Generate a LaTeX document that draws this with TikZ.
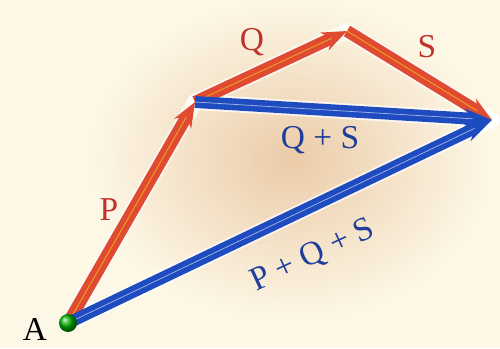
\documentclass[tikz,border=0pt]{standalone}
\usepackage{xcolor}
\usepackage{fontspec}
\setmainfont{Liberation Serif}
\usepackage{tikz}
\usetikzlibrary{positioning,arrows.meta}
\definecolor{vecRed}{HTML}{E04A32}
\definecolor{vecBlue}{HTML}{1E4CC0}
\definecolor{lblRed}{HTML}{C0332B}
\definecolor{lblBlue}{HTML}{1F3D9A}
\definecolor{bgCream}{HTML}{FDF7E6}
\definecolor{bgTan}{HTML}{EBCBA8}
\newcommand{\vlabel}{\fontsize{19}{21}\selectfont}

\begin{document}
\begin{tikzpicture}[x=0.02cm,y=-0.02cm,
    redvec/.style={draw=vecRed,line width=3.2pt,double=vecRed!50!yellow,double distance=0.5pt,
      -{Stealth[length=14pt,width=11pt]}},
    bluevec/.style={draw=vecBlue,line width=3.2pt,double=vecBlue!40!white,double distance=0.4pt,
      -{Stealth[length=16pt,width=11pt]}},
    halo/.style={draw=white,line width=9pt,opacity=0.7,line cap=round},
    redlbl/.style={text=lblRed,font=\vlabel},
    bluelbl/.style={text=lblBlue,font=\vlabel}]
      % background
      \fill[bgCream] (0,0) rectangle (500,348);
      \shade[inner color=bgTan,outer color=bgCream] (290,160) ellipse [x radius=200,y radius=160];
      \useasboundingbox (0,0) rectangle (500,348);
      % points
      \coordinate (A) at (68,323);
      \coordinate (B) at (195,102);
      \coordinate (C) at (347,31);
      \coordinate (D) at (492,120);
      % glow under vectors
      \draw[halo] (A) -- (B) -- (C) -- (D);
      \draw[halo] (B) -- (D);
      \draw[halo] (A) -- (D);
      % vectors
      \draw[redvec] (A) -- (B);
      \draw[redvec] (B) -- (C);
      \draw[redvec] (C) -- (D);
      \draw[bluevec] (B) -- (D);
      \draw[bluevec] (A) -- (D);
      % point A
      \shade[ball color=green!70!black] (A) circle [radius=9];
      \node[font=\vlabel] (lblA) at (35,329) {A};
      % labels
      \node[redlbl] (lblP) at (109,210) {P};
      \node[redlbl] (lblQ) at (252,42) {Q};
      \node[redlbl] (lblS) at (427,47) {S};
      \node[bluelbl] (lblQS) at (320,140) {Q + S};
      \node[bluelbl,rotate=25,inner sep=0pt] (lblPQS) at (313,256) {P + Q + S};
    \end{tikzpicture}
\end{document}
